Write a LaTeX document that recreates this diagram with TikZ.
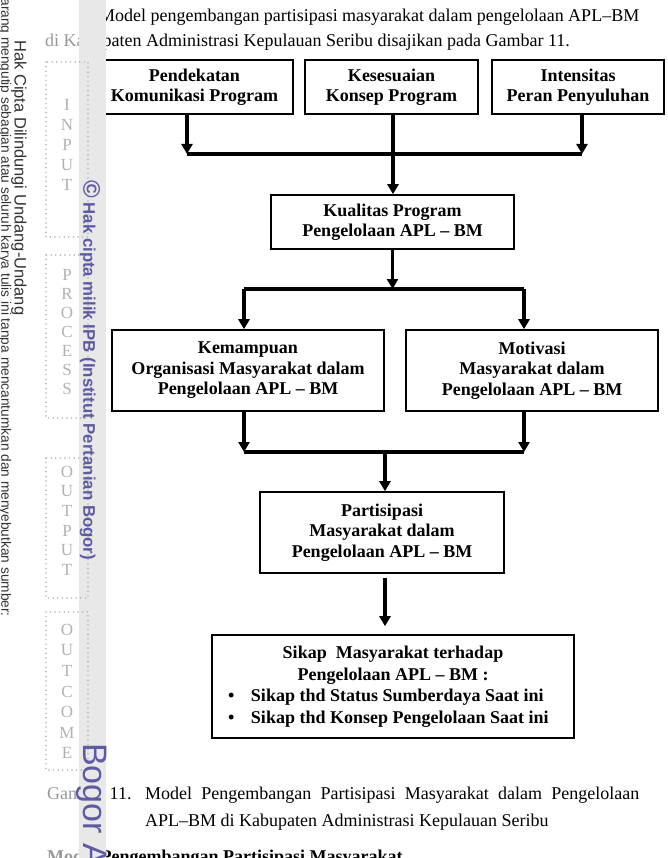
\documentclass[tikz,border=0pt]{standalone}
\usepackage{fontspec}
\setmainfont{Liberation Serif}
\newfontfamily\wmsans{Liberation Sans}
\usetikzlibrary{positioning, arrows.meta}
\definecolor{wmpurple}{RGB}{92,90,162}

\begin{document}
\begin{tikzpicture}[x=1pt, y=-1pt,
    box/.style={draw, line width=1.6pt, align=center, inner sep=0pt,
      font=\fontsize{18}{20.5}\selectfont\bfseries},
    flow/.style={line width=3.4pt, -{Triangle[width=11pt,length=10pt]}},
    bar/.style={line width=3.4pt},
    body/.style={inner sep=0pt, font=\fontsize{18}{21}\selectfont},
    dotbox/.style={draw=gray!60, line width=1.7pt, line cap=round,
      dash pattern=on 0pt off 4.6pt},
    wmletter/.style={inner sep=0pt, text=gray!60, font=\fontsize{17}{17}\selectfont},
    wmline/.style={rotate=-90, inner sep=0pt, text=black!80}]
  \useasboundingbox (0,0) rectangle (668,858);
  \clip (0,0) rectangle (668,858);

  % text above the figure
  \node(txt_intro1)[body, anchor=base west] at (99,22)
    {\makebox[540pt][s]{Model pengembangan partisipasi masyarakat dalam pengelolaan APL–BM}};
  \node(txt_intro2)[body, anchor=base west] at (45,47)
    {di Kabupaten Administrasi Kepulauan Seribu disajikan pada Gambar 11.};

  % boxes
  \node(b_pendekatan)[box, minimum width=197pt, minimum height=54pt] at (194.5,87)
    {Pendekatan\\Komunikasi Program};
  \node(b_kesesuaian)[box, minimum width=173pt, minimum height=54pt] at (391.5,87)
    {Kesesuaian\\Konsep Program};
  \node(b_intensitas)[box, minimum width=172pt, minimum height=54pt] at (578,87)
    {Intensitas\\Peran Penyuluhan};
  \node(b_kualitas)[box, minimum width=243pt, minimum height=54pt] at (392.5,222)
    {Kualitas Program\\Pengelolaan APL – BM};
  \node(b_kemampuan)[box, minimum width=272pt, minimum height=81pt] at (248,370.5)
    {Kemampuan\\Organisasi Masyarakat dalam\\Pengelolaan APL – BM};
  \node(b_motivasi)[box, minimum width=252pt, minimum height=81pt] at (532,370.5)
    {Motivasi\\Masyarakat dalam\\Pengelolaan APL – BM};
  \node(b_partisipasi)[box, minimum width=244pt, minimum height=81pt] at (382,532.5)
    {Partisipasi\\Masyarakat dalam\\Pengelolaan APL – BM};
  \node(b_sikap)[box, minimum width=362pt, minimum height=103pt,
      font=\fontsize{18}{21.5}\selectfont\bfseries] at (393,686.5)
    {Sikap\ \ Masyarakat terhadap\\Pengelolaan APL – BM :\\
     \makebox[330pt][l]{\makebox[23pt][l]{\textbullet}Sikap thd Status Sumberdaya Saat ini}\\
     \makebox[330pt][l]{\makebox[23pt][l]{\textbullet}Sikap thd Konsep Pengelolaan Saat ini}};

  % junctions
  \coordinate(bar1_l) at (187,154);
  \coordinate(bar1_m) at (393,154);
  \coordinate(bar1_r) at (582,154);
  \coordinate(bar2_l) at (244,289);
  \coordinate(bar2_m) at (392.5,289);
  \coordinate(bar2_r) at (524,289);
  \coordinate(bar3_l) at (244,452);
  \coordinate(bar3_m) at (385,452);
  \coordinate(bar3_r) at (524,452);

  % connectors
  \draw[flow] (b_pendekatan.south -| bar1_l) -- (bar1_l);
  \draw[flow] (b_intensitas.south -| bar1_r) -- (bar1_r);
  \draw[bar] (bar1_l) -- (bar1_r);
  \draw[flow] (b_kesesuaian.south -| bar1_m) -- (b_kualitas.north -| bar1_m);

  \draw[flow] (b_kualitas.south -| bar2_m) -- (bar2_m);
  \draw[bar] (bar2_l) -- (bar2_r);
  \draw[flow] (bar2_l) -- (b_kemampuan.north -| bar2_l);
  \draw[flow] (bar2_r) -- (b_motivasi.north -| bar2_r);

  \draw[flow] (b_kemampuan.south -| bar3_l) -- (bar3_l);
  \draw[flow] (b_motivasi.south -| bar3_r) -- (bar3_r);
  \draw[bar] (bar3_l) -- (bar3_r);
  \draw[flow] (bar3_m) -- (b_partisipasi.north -| bar3_m);
  \draw[flow, shorten >=8pt] (b_partisipasi.south -| bar3_m) ++(0,4) -- (b_sikap.north -| bar3_m);

  % caption and next heading
  \node(txt_cap1)[body, anchor=base west] at (47,799)
    {\makebox[98pt][l]{Gambar 11.}\makebox[494pt][s]{Model Pengembangan Partisipasi Masyarakat dalam Pengelolaan}};
  \node(txt_cap2)[body, anchor=base west] at (145,826)
    {APL–BM di Kabupaten Administrasi Kepulauan Seribu};
  \node(txt_head)[body, anchor=base west, font=\fontsize{18}{21}\selectfont\bfseries] at (47,862)
    {Model Pengembangan Partisipasi Masyarakat};

  % margin stamp
  \fill[white, opacity=0.6] (0,0) rectangle (106,858);
  \fill[gray!18] (79,0) rectangle (106,858);

  \draw[dotbox] (46,62) rectangle (88,237);
  \draw[dotbox] (46,255) rectangle (88,418);
  \draw[dotbox] (46,458) rectangle (88,598);
  \draw[dotbox] (46,612) rectangle (88,770);
  \foreach \ch [count=\i] in {I,N,P,U,T}
    \node(l_input_\i)[wmletter] at (67,85+20*\i) {\ch};
  \foreach \ch [count=\i] in {P,R,O,C,E,S,S}
    \node(l_process_\i)[wmletter] at (67,256+19*\i) {\ch};
  \foreach \ch [count=\i] in {O,U,T,P,U,T}
    \node(l_output_\i)[wmletter] at (67,452.5+19.5*\i) {\ch};
  \foreach \ch [count=\i] in {O,U,T,C,O,M,E}
    \node(l_outcome_\i)[wmletter] at (67,609.5+20.5*\i) {\ch};

  \node(wm_hak)[wmline, anchor=west, font=\wmsans\fontsize{16.5}{16.5}\selectfont] at (19,40)
    {Hak Cipta Dilindungi Undang-Undang};
  \node(wm_larang)[wmline, anchor=east, font=\wmsans\fontsize{13.7}{13.7}\selectfont] at (5,617)
    {arang mengutip sebagian atau seluruh karya tulis ini tanpa mencantumkan dan menyebutkan sumber:};
  \node(wm_ipb)[rotate=-90, anchor=west, inner sep=0pt, text=wmpurple,
      font=\wmsans\bfseries\fontsize{16.8}{16.8}\selectfont] at (90,180)
    {{\fontsize{24}{24}\selectfont ©} Hak cipta milik IPB (Institut Pertanian Bogor)};
  \node(wm_bogor)[rotate=-90, anchor=west, inner sep=0pt, text=wmpurple,
      font=\wmsans\fontsize{34}{34}\selectfont] at (92,743) {Bogor Ag};
\end{tikzpicture}
\end{document}
